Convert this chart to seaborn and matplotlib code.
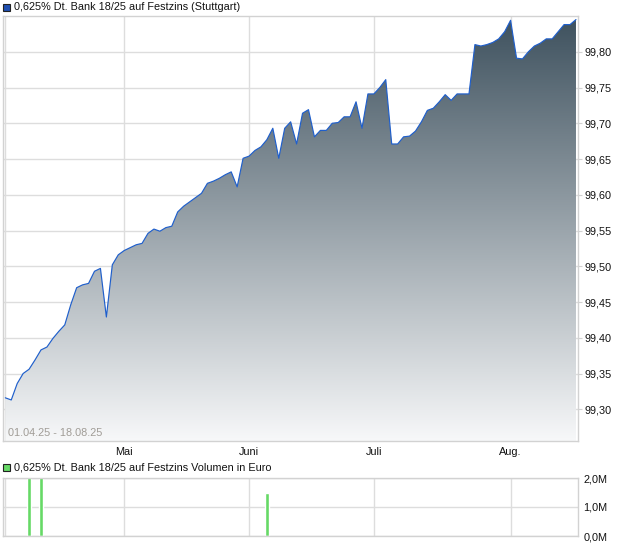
import numpy as np
import pandas as pd
import matplotlib
matplotlib.use("Agg")
import matplotlib.pyplot as plt
from matplotlib.colors import LinearSegmentedColormap
from matplotlib.patches import Rectangle, PathPatch
import seaborn as sns

# Daten
title_main = "0,625% Dt. Bank 18/25 auf Festzins (Stuttgart)"
title_vol = "0,625% Dt. Bank 18/25 auf Festzins Volumen in Euro"
period_text = "01.04.25 - 18.08.25"
holidays = ["2025-04-18", "2025-04-21", "2025-05-01"]
month_labels = ["", "Mai", "Juni", "Juli", "Aug."]
price = [
    99.316, 99.313, 99.336, 99.350, 99.356, 99.369, 99.383, 99.387, 99.399, 99.409,
    99.418, 99.446, 99.470, 99.474, 99.476, 99.493, 99.497, 99.429, 99.502, 99.516,
    99.522, 99.526, 99.530, 99.532, 99.546, 99.552, 99.549, 99.554, 99.556, 99.576,
    99.584, 99.590, 99.596, 99.602, 99.616, 99.619, 99.623, 99.628, 99.632, 99.611,
    99.651, 99.654, 99.662, 99.667, 99.677, 99.693, 99.651, 99.693, 99.702, 99.671,
    99.714, 99.719, 99.681, 99.690, 99.690, 99.700, 99.701, 99.709, 99.709, 99.730,
    99.693, 99.741, 99.741, 99.750, 99.761, 99.671, 99.671, 99.681, 99.682, 99.689,
    99.702, 99.718, 99.721, 99.730, 99.740, 99.732, 99.741, 99.741, 99.741, 99.810,
    99.808, 99.810, 99.813, 99.818, 99.828, 99.844, 99.791, 99.790, 99.800, 99.808,
    99.812, 99.818, 99.818, 99.828, 99.838, 99.838, 99.845,
]
vol_dates = ["2025-04-07", "2025-04-09", "2025-06-05"]
vol_values = [2.4e6, 2.2e6, 1.5e6]
price_ticks = [99.30, 99.35, 99.40, 99.45, 99.50, 99.55, 99.60, 99.65, 99.70, 99.75, 99.80]
vol_ticks = [0.0, 1.0e6, 2.0e6]

# Handelstage
dates = pd.bdate_range("2025-04-01", "2025-08-18")
dates = dates[~dates.isin(pd.to_datetime(holidays))]
df = pd.DataFrame({"date": dates, "price": price})
df["idx"] = np.arange(len(df))
month_pos = df.groupby(df["date"].dt.month)["idx"].min().tolist()
vol_idx = [int(df.loc[df["date"] == pd.Timestamp(d), "idx"].iloc[0]) for d in vol_dates]

sns.set_theme(style="white")
plt.rcParams["font.family"] = ["Liberation Sans", "DejaVu Sans"]
fs = 7.8
plt.rcParams["font.size"] = fs

W, H = 620, 546
fig = plt.figure(figsize=(W / 100, H / 100), dpi=100)
grid_c = "#dddddd"
spine_c = "#d2d2d2"
xlim = (-0.39, 96.34)

# Kurs-Chart
ax = fig.add_axes([3 / W, 1 - 441 / H, 575 / W, 425 / H])
ylo, yhi = 99.2556, 99.850
ax.set_xlim(*xlim)
ax.set_ylim(ylo, yhi)

fill = ax.fill_between(df["idx"], df["price"], ylo, facecolor="none", edgecolor="none")
clip = PathPatch(fill.get_paths()[0], transform=ax.transData, facecolor="none", edgecolor="none")
ax.add_patch(clip)
cmap = LinearSegmentedColormap.from_list("grad", ["#f7f8f9", "#3f525f"])
img = ax.imshow(np.linspace(1, 0, 256).reshape(-1, 1), cmap=cmap, aspect="auto",
                extent=[xlim[0], xlim[1], ylo, max(price)], origin="upper", zorder=1)
img.set_clip_path(clip)

sns.lineplot(data=df, x="idx", y="price", ax=ax, color="#1f5fcc", linewidth=0.85, zorder=3)
ax.set_xlabel("")
ax.set_ylabel("")

ax.set_xticks(month_pos)
ax.set_xticklabels(month_labels)
ax.set_yticks(price_ticks)
ax.set_yticklabels([f"{t:.2f}".replace(".", ",") for t in price_ticks])
ax.yaxis.tick_right()
ax.tick_params(axis="x", length=3, width=0.8, color=spine_c, pad=1, labelsize=fs, labelcolor="#111111")
ax.tick_params(axis="y", length=3, width=0.8, color=spine_c, pad=1.5, labelsize=fs, labelcolor="#111111")
ax.grid(True, color=grid_c, linewidth=1.0, zorder=0)
ax.set_axisbelow(True)
for s in ax.spines.values():
    s.set_color(spine_c)
    s.set_linewidth(1.0)
ax.text(5 / 575, 8 / 425, period_text, transform=ax.transAxes, color="#a09c96",
        va="center", ha="left", fontsize=fs)

# Volumen-Chart
ax2 = fig.add_axes([3 / W, 1 - 536 / H, 575 / W, 58 / H])
ax2.bar(vol_idx, vol_values, width=0.55, color="#66d966", zorder=2)
ax2.set_xlim(*xlim)
ax2.set_ylim(0, 2.0e6)
ax2.set_xticks(month_pos)
ax2.set_xticklabels([])
ax2.set_yticks(vol_ticks)
ax2.set_yticklabels([f"{t / 1e6:.1f}M".replace(".", ",") for t in vol_ticks])
ax2.yaxis.tick_right()
ax2.tick_params(axis="x", length=0)
ax2.tick_params(axis="y", length=0, pad=4, labelsize=fs, labelcolor="#111111")
ax2.grid(True, color=grid_c, linewidth=1.0, zorder=0)
ax2.set_axisbelow(True)
for s in ax2.spines.values():
    s.set_color(spine_c)
    s.set_linewidth(1.0)

# Legenden-Kaestchen
fig.add_artist(Rectangle((3 / W, 1 - 11 / H), 7 / W, 7 / H, transform=fig.transFigure,
                         facecolor="#1f4fb0", edgecolor="#222222", linewidth=0.8))
fig.text(14 / W, 1 - 7 / H, title_main, va="center", ha="left", color="#111111", fontsize=fs)
fig.add_artist(Rectangle((3 / W, 1 - 471 / H), 7 / W, 7 / H, transform=fig.transFigure,
                         facecolor="#66d966", edgecolor="#222222", linewidth=0.8))
fig.text(14 / W, 1 - 467 / H, title_vol, va="center", ha="left", color="#111111", fontsize=fs)

fig.savefig("out.png", dpi=100)
